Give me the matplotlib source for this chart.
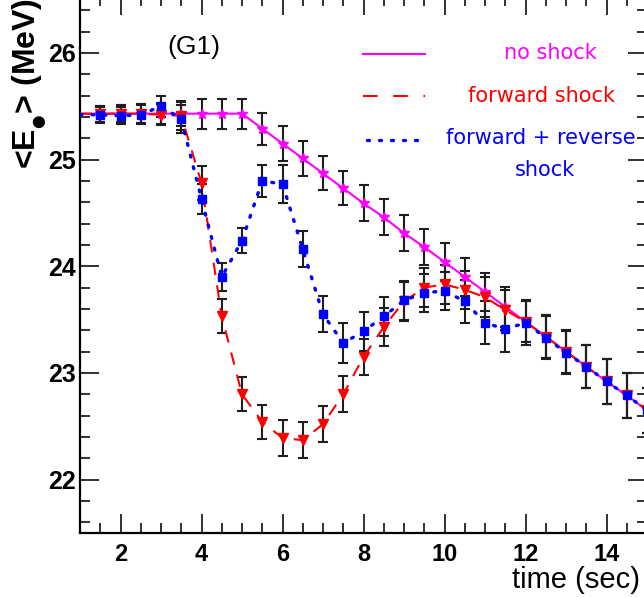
import matplotlib
matplotlib.use('Agg')
import matplotlib.pyplot as plt
from matplotlib.lines import Line2D
from matplotlib.ticker import MultipleLocator

# time bins (sec); the first one only carries the lines to the left edge
time = [1.0, 1.5, 2.0, 2.5, 3.0, 3.5, 4.0, 4.5, 5.0, 5.5, 6.0, 6.5, 7.0, 7.5,
        8.0, 8.5, 9.0, 9.5, 10.0, 10.5, 11.0, 11.5, 12.0, 12.5, 13.0, 13.5,
        14.0, 14.5, 15.0]

# mean energy <E> (MeV)
no_shock = [25.43, 25.43, 25.43, 25.43, 25.43, 25.43, 25.43, 25.43, 25.43,
            25.29, 25.15, 25.01, 24.87, 24.73, 24.59, 24.46, 24.31, 24.18,
            24.04, 23.90, 23.76, 23.62, 23.48, 23.34, 23.20, 23.06, 22.92,
            22.79, 22.65]
forward = [25.43, 25.43, 25.43, 25.43, 25.42, 25.41, 24.78, 23.53, 22.80,
           22.54, 22.39, 22.37, 22.52, 22.80, 23.15, 23.43, 23.67, 23.80,
           23.83, 23.78, 23.71, 23.59, 23.48, 23.34, 23.20, 23.06, 22.92,
           22.79, 22.65]
fwd_rev = [25.42, 25.42, 25.41, 25.42, 25.50, 25.38, 24.63, 23.90, 24.24,
           24.80, 24.77, 24.16, 23.55, 23.28, 23.39, 23.53, 23.68, 23.75,
           23.77, 23.67, 23.47, 23.41, 23.47, 23.33, 23.19, 23.06, 22.92,
           22.79, 22.65]

# error bars (from 1.5 s on)
err_no = [0.075, 0.08, 0.09, 0.10, 0.12, 0.14, 0.14, 0.14, 0.15, 0.16, 0.16,
          0.16, 0.16, 0.17, 0.17, 0.17, 0.17, 0.18, 0.18, 0.18, 0.19, 0.19,
          0.20, 0.20, 0.20, 0.21, 0.21, 0.21]
err_fw = [0.075, 0.08, 0.09, 0.10, 0.13, 0.16, 0.16, 0.16, 0.16, 0.17, 0.17,
          0.17, 0.17, 0.17, 0.18, 0.18, 0.18, 0.18, 0.18, 0.19, 0.19, 0.19,
          0.20, 0.20, 0.20, 0.21, 0.21, 0.21]
err_fr = [0.075, 0.08, 0.09, 0.10, 0.13, 0.14, 0.13, 0.12, 0.15, 0.18, 0.17,
          0.17, 0.19, 0.18, 0.18, 0.18, 0.18, 0.18, 0.20, 0.20, 0.21, 0.21,
          0.20, 0.20, 0.20, 0.21, 0.21, 0.21]

fig = plt.figure(figsize=(6.44, 5.98), dpi=100)
ax = fig.add_axes([80/644, 65/598, 567/644, 536.7/598])

#error bars first, curves on top
for vals, err in [(no_shock, err_no), (forward, err_fw), (fwd_rev, err_fr)]:
    ax.errorbar(time[1:], vals[1:], yerr=err, fmt='none', ecolor='#1e1e1e',
                elinewidth=1.5, capsize=3.8, capthick=1.5, zorder=2)

ax.plot(time, no_shock, color='#ff00ff', lw=1.5, marker='*', ms=7,
        markevery=slice(1, None), zorder=3)
ax.plot(time, forward, color='#ff0000', lw=1.5, ls=(0, (6, 5)), marker='v',
        ms=7, markevery=slice(1, None), zorder=4)
ax.plot(time, fwd_rev, color='#0000ff', lw=2.4, ls=(0, (0.6, 3.0)),
        dash_capstyle='round', marker='s', ms=6, markevery=slice(1, None),
        zorder=5)

ax.set_xlim(1, 15)
ax.set_ylim(21.5, 26.53)
ax.xaxis.set_major_locator(MultipleLocator(2))
ax.xaxis.set_minor_locator(MultipleLocator(0.5))
ax.yaxis.set_major_locator(MultipleLocator(1))
ax.yaxis.set_minor_locator(MultipleLocator(0.2))
ax.tick_params(which='both', direction='in', top=True, right=True, width=1.3,
               color='#222222')
ax.tick_params(which='major', length=14)
ax.tick_params(which='minor', length=7)
ax.tick_params(axis='x', pad=7)
ax.tick_params(axis='y', pad=3)
for lab in ax.get_xticklabels():
    lab.set_fontfamily('Liberation Sans')
    lab.set_fontweight('bold')
    lab.set_fontsize(17)
for lab in ax.get_yticklabels():
    lab.set_fontfamily('Liberation Sans')
    lab.set_fontweight('bold')
    lab.set_fontsize(18)
for sp in ax.spines.values():
    sp.set_linewidth(1.6)

fig.text(640/644, 4/598, 'time (sec)', ha='right', va='bottom',
         fontsize=21, family='Liberation Sans')
fig.text(30/644, 1 - 84/598, '<E$_{_●}$> (MeV)', rotation=90,
         ha='center', va='center', fontsize=23, fontweight='bold',
         family='Liberation Sans')
fig.text(194/644, 1 - 47/598, '(G1)', ha='center', va='center', fontsize=19,
         family='Liberation Sans')

# legend keys
leg_y = [54, 96, 140]
fig.add_artist(Line2D([363/644, 425/644], [1 - leg_y[0]/598] * 2,
                      color='#ff00ff', lw=1.5))
fig.add_artist(Line2D([363/644, 425/644], [1 - leg_y[1]/598] * 2,
                      color='#ff0000', lw=1.5, ls=(0, (7, 7.5))))
fig.add_artist(Line2D([367/644, 422/644], [1 - leg_y[2]/598] * 2,
                      color='#0000ff', lw=2.4, ls=(0, (0.6, 3.0)),
                      dash_capstyle='round'))
fig.text(550/644, 1 - 53/598, 'no shock', color='#ff00ff', ha='center',
         va='center', fontsize=15)
fig.text(541/644, 1 - 96/598, 'forward shock', color='#ff0000', ha='center',
         va='center', fontsize=15)
fig.text(541/644, 1 - 138/598, 'forward + reverse', color='#0000ff',
         ha='center', va='center', fontsize=15)
fig.text(545/644, 1 - 170/598, 'shock', color='#0000ff', ha='center',
         va='center', fontsize=15)

fig.savefig('out.png', dpi=100)
